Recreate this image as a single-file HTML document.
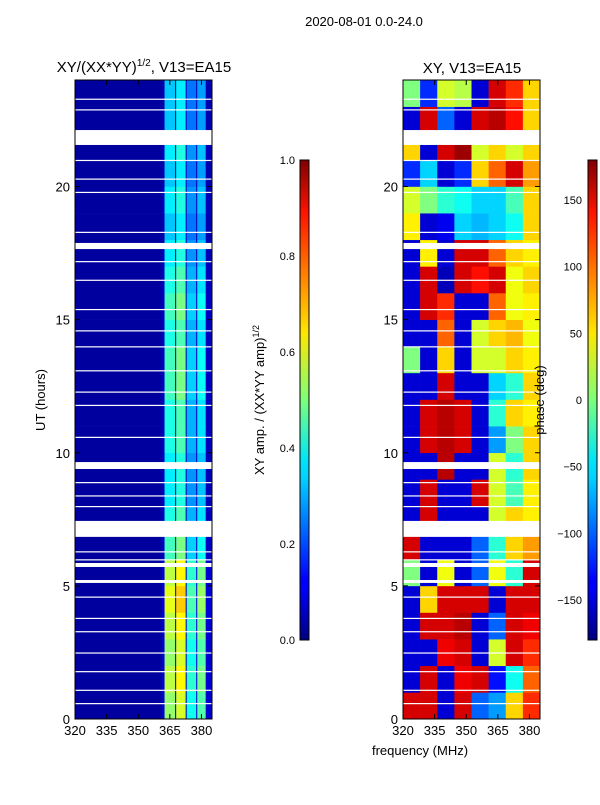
<!DOCTYPE html>
<html><head><meta charset="utf-8"><style>
body{margin:0;background:#fff;}
svg text{font-family:"Liberation Sans",sans-serif;fill:#000;}
</style></head><body>
<svg id="fig" width="600" height="800" xmlns="http://www.w3.org/2000/svg">
<defs>
<linearGradient id="jet" x1="0" y1="1" x2="0" y2="0">
<stop offset="0" stop-color="#00007f"/><stop offset="0.11" stop-color="#0000ff"/><stop offset="0.125" stop-color="#0000ff"/>
<stop offset="0.34" stop-color="#00d4ff"/><stop offset="0.375" stop-color="#00e5f8"/><stop offset="0.5" stop-color="#7dff7a"/>
<stop offset="0.64" stop-color="#ffe600"/><stop offset="0.89" stop-color="#ff1300"/><stop offset="1" stop-color="#7f0000"/>
</linearGradient>
</defs>
<text x="364" y="26" font-size="13" text-anchor="middle">2020-08-01 0.0-24.0</text>
<text x="144" y="72" font-size="15" text-anchor="middle">XY/(XX*YY)<tspan font-size="10" dy="-6">1/2</tspan><tspan dy="6">, V13=EA15</tspan></text>
<text x="472" y="73" font-size="15" text-anchor="middle">XY, V13=EA15</text>
<g id="ampPlot"></g><g id="phPlot"></g>
<g id="axes"></g>
<text transform="translate(45,400) rotate(-90)" font-size="13" text-anchor="middle">UT (hours)</text>
<text x="420" y="755" font-size="13" text-anchor="middle">frequency (MHz)</text>
<rect x="300" y="160" width="9" height="480" fill="url(#jet)" stroke="#000" stroke-width="1"/>
<rect x="588" y="160" width="9" height="480" fill="url(#jet)" stroke="#000" stroke-width="1"/>
<text transform="translate(264,400) rotate(-90)" font-size="13" text-anchor="middle">XY amp. / (XX*YY amp)<tspan font-size="9" dy="-5">1/2</tspan></text>
<text transform="translate(544,400) rotate(-90)" font-size="13" text-anchor="middle">phase (deg)</text>
</svg>
<script>
const hours=[0,1,2,3,4,5,6,7,8,9,10,11,12,13,14,15,16,17,18,19,20,21,22,23];
const phaseCols=[320,328.125,336.25,344.375,352.5,360.625,368.75,376.875,385];
const phase=[
[150,150,-150,150,-100,-80,60,120],
[-150,150,-150,140,150,-130,-40,100],
[-150,-150,140,150,-150,30,150,120],
[-150,150,150,160,-150,-100,150,140],
[-150,60,150,150,150,-150,150,150],
[0,-150,40,-150,-100,40,-30,150],
[150,-150,-150,-150,-100,-30,60,80],
[-150,150,-150,-150,-150,30,60,50],
[-150,150,-150,-150,150,30,-20,50],
[-150,-150,160,-150,-150,30,-30,60],
[-150,150,160,150,-150,-80,0,60],
[-150,150,160,150,-150,-30,60,50],
[-150,-150,150,-150,-150,-60,-30,60],
[0,-150,60,-150,30,30,60,50],
[-150,-150,100,-150,30,60,70,40],
[-150,150,120,-150,-150,100,40,50],
[-150,150,-160,150,130,150,40,60],
[-150,50,-150,150,150,100,60,50],
[50,-150,-140,-60,-70,-60,-40,60],
[30,0,-30,-40,-60,-60,-20,60],
[-120,-60,-150,-120,60,100,150,80],
[60,-150,150,170,30,60,30,60],
[-150,150,-100,-150,150,160,130,60],
[0,-120,30,20,-150,150,120,60]];
const ampCols=[320,361,362.5,367.5,368,372.5,373,377.5,378,382,385];
const ampBase=[0.03,0.06,0.4,0.06,0.45,0.06,0.3,0.06,0.35,0.06];
const ampHourFactor=[1.3,1.4,1.3,1.4,1.5,1.4,1.1,1.0,0.9,0.9,1.0,1.0,1.1,1.1,1.0,1.1,1.0,0.9,0.8,0.9,0.8,0.9,0.8,0.8];
const gaps=[[21.56,22.12],[17.65,17.88],[9.39,9.65],[6.84,7.44],[5.71,5.86],[5.11,5.22]];
const thinGaps=[23.3,22.9,21.0,20.3,19.8,18.3,17.2,16.5,15.4,14.6,14.0,13.1,12.3,11.8,10.6,8.9,8.4,8.0,6.3,6.0,4.6,3.8,3.3,2.5,1.8,1.1,0.6];
const xTicks=[320,335,350,365,380];
const yTicks=[0,5,10,15,20];
const ampTicks=[0.0,0.2,0.4,0.6,0.8,1.0];
const phTicks=[-150,-100,-50,0,50,100,150];

const NS="http://www.w3.org/2000/svg";
const P1=75,P2=403,W=137,TOP=80,BOT=719;
const xs=(f,x0)=>x0+(f-320)*W/65;
const ys=h=>BOT-h*(BOT-TOP)/24;
function jet(v){v=Math.max(0,Math.min(1,v));
 const c=t=>Math.round(255*Math.max(0,Math.min(1,1.5-Math.abs(4*v-t))));
 return `rgb(${c(3)},${c(2)},${c(1)})`;}
function mk(tag,attrs,parent){const e=document.createElementNS(NS,tag);for(const k in attrs)e.setAttribute(k,attrs[k]);parent.appendChild(e);return e;}
const gA=document.getElementById('ampPlot'),gP=document.getElementById('phPlot'),gX=document.getElementById('axes');
hours.forEach((h,i)=>{
 for(let j=0;j<ampBase.length;j++){
  const r=mk('rect',{x:xs(ampCols[j],P1),y:ys(h+1),width:xs(ampCols[j+1],P1)-xs(ampCols[j],P1)+0.3,height:ys(h)-ys(h+1)+0.3,fill:jet(ampBase[j]*(j===0?1:ampHourFactor[i]))},gA);
  
  
 }
 for(let j=0;j<8;j++){
  const r=mk('rect',{x:xs(phaseCols[j],P2),y:ys(h+1),width:xs(phaseCols[j+1],P2)-xs(phaseCols[j],P2)+0.3,height:ys(h)-ys(h+1)+0.3,fill:jet((phase[i][j]+180)/360)},gP);
  
  
 }
});
[P1,P2].forEach(x0=>{
 gaps.forEach(g=>{const r=mk('rect',{x:x0,y:ys(g[1]),width:W,height:ys(g[0])-ys(g[1]),fill:'#fff'},gX);
  
  });
 thinGaps.forEach(t=>{const r=mk('rect',{x:x0,y:ys(t),width:W,height:1.2,fill:'#fff'},gX);
  
  });
 const fr=mk('rect',{x:x0,y:TOP,width:W,height:BOT-TOP,fill:'none',stroke:'#000','stroke-width':1},gX);
 
 
 xTicks.forEach(t=>{const x=xs(t,x0);
  mk('line',{x1:x,x2:x,y1:BOT,y2:BOT-5,stroke:'#000'},gX);mk('line',{x1:x,x2:x,y1:TOP,y2:TOP+5,stroke:'#000'},gX);
  const tx=mk('text',{x:x,y:BOT+16,'font-size':13,'text-anchor':'middle'},gX);tx.textContent=t;
  
  });
 yTicks.forEach(t=>{const y=ys(t);
  mk('line',{x1:x0,x2:x0+5,y1:y,y2:y,stroke:'#000'},gX);mk('line',{x1:x0+W,x2:x0+W-5,y1:y,y2:y,stroke:'#000'},gX);
  const tx=mk('text',{x:x0-5,y:y+5,'font-size':13,'text-anchor':'end'},gX);tx.textContent=t;
  
  });
});
const cy=(v,lo,hi)=>640-(v-lo)/(hi-lo)*480;
ampTicks.forEach(t=>{const y=cy(t,0,1);mk('line',{x1:300,x2:304,y1:y,y2:y,stroke:'#000'},gX);
 const tx=mk('text',{x:295,y:y+4,'font-size':11,'text-anchor':'end'},gX);tx.textContent=t.toFixed(1);
 
 });
phTicks.forEach(t=>{const y=cy(t,-180,180);mk('line',{x1:588,x2:592,y1:y,y2:y,stroke:'#000'},gX);
 const tx=mk('text',{x:582,y:y+4,'font-size':11,'text-anchor':'end'},gX);tx.textContent=t<0?'\u2212'+(-t):t;
 
 });
</script>
</body></html>
